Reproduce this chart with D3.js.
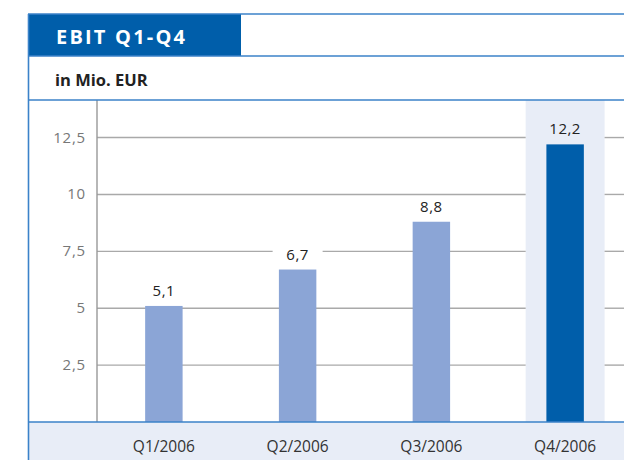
<!DOCTYPE html>
<html>
<head>
<meta charset="utf-8">
<script src="https://cdn.jsdelivr.net/npm/d3@7"></script>
<style>
  html, body { margin: 0; padding: 0; background: #fff; }
  svg { display: block; font-family: "Open Sans", "DejaVu Sans", sans-serif; }
</style>
</head>
<body>
<svg id="chart" width="624" height="460"></svg>
<script>
// ── Data ────────────────────────────────────────────────────────────────
const quarters = ['Q1/2006', 'Q2/2006', 'Q3/2006', 'Q4/2006'];
const ebit = [5.1, 6.7, 8.8, 12.2];
const yTicks = [2.5, 5, 7.5, 10, 12.5];
const highlighted = 'Q4/2006';

const fmt = v => String(v).replace('.', ',');

const svg = d3.select('#chart');
const W = 624, H = 460;
const blue = '#005eaa';
const frame = '#3b82c9';
const paleBlue = '#e8edf7';

// plot area
const plotLeft = 97, plotTop = 100, plotBottom = 422;

const x = d3.scaleBand()
  .domain(quarters)
  .range([plotLeft, 632])
  .paddingInner(0.72)
  .paddingOuter(0.36);

const y = d3.scaleLinear().domain([0, 14.15]).range([plotBottom, plotTop]);

// ── Header ───────────────────────────────────────────────────────────────
svg.append('rect')
  .attr('x', 28).attr('y', 14).attr('width', 213).attr('height', 42)
  .attr('fill', blue);

svg.append('text')
  .attr('x', 56).attr('y', 43.5)
  .attr('fill', '#fff')
  .attr('font-size', 20).attr('font-weight', 'bold')
  .attr('letter-spacing', 2.2)
  .text('EBIT Q1-Q4');

svg.append('text')
  .attr('x', 55).attr('y', 86)
  .attr('fill', '#222')
  .attr('font-size', 16.5).attr('font-weight', 'bold')
  .text('in Mio. EUR');

// ── Bottom band + highlight column ──────────────────────────────────────
svg.append('rect')
  .attr('x', 28).attr('y', plotBottom).attr('width', W - 28).attr('height', H - plotBottom)
  .attr('fill', paleBlue);

const hlW = x.step() * 0.59;
const hlX0 = x(highlighted) + x.bandwidth() / 2 - hlW / 2;
svg.append('rect')
  .attr('x', hlX0)
  .attr('y', plotTop)
  .attr('width', hlW)
  .attr('height', plotBottom - plotTop)
  .attr('fill', paleBlue);

// ── Grid ─────────────────────────────────────────────────────────────────
const grid = svg.append('g');
yTicks.forEach(t => {
  grid.append('line')
    .attr('x1', plotLeft).attr('x2', hlX0)
    .attr('y1', y(t)).attr('y2', y(t))
    .attr('stroke', '#a9a9a9').attr('stroke-width', 1.4);
  grid.append('line')
    .attr('x1', hlX0 + hlW).attr('x2', W)
    .attr('y1', y(t)).attr('y2', y(t))
    .attr('stroke', '#a9a9a9').attr('stroke-width', 1.4);
});

svg.append('g')
  .selectAll('text')
  .data(yTicks)
  .join('text')
  .attr('x', 86)
  .attr('y', d => y(d) + 5)
  .attr('text-anchor', 'end')
  .attr('fill', '#777')
  .attr('font-size', 15)
  .attr('letter-spacing', 0.8)
  .text(fmt);

svg.append('line')
  .attr('x1', plotLeft).attr('x2', plotLeft)
  .attr('y1', plotTop).attr('y2', plotBottom)
  .attr('stroke', '#999').attr('stroke-width', 1.4);

// ── Bars ─────────────────────────────────────────────────────────────────
svg.append('g')
  .selectAll('rect')
  .data(quarters)
  .join('rect')
  .attr('x', d => x(d))
  .attr('y', (d, i) => y(ebit[i]))
  .attr('width', x.bandwidth())
  .attr('height', (d, i) => plotBottom - y(ebit[i]))
  .attr('fill', d => d === highlighted ? blue : '#8ba5d6');

// value labels with a white (or pale) backing that breaks the gridlines
const labels = svg.append('g')
  .selectAll('g')
  .data(quarters)
  .join('g')
  .attr('transform', (d, i) => `translate(${x(d) + x.bandwidth() / 2},${y(ebit[i]) - 10})`);

labels.append('rect')
  .attr('x', -25).attr('y', -15).attr('width', 50).attr('height', 19)
  .attr('fill', d => d === highlighted ? paleBlue : '#fff');

labels.append('text')
  .attr('text-anchor', 'middle')
  .attr('fill', '#222')
  .attr('font-size', 15)
  .attr('letter-spacing', 0.5)
  .text((d, i) => fmt(ebit[i]));

// ── Category axis ───────────────────────────────────────────────────────
svg.append('g')
  .selectAll('text')
  .data(quarters)
  .join('text')
  .attr('x', d => x(d) + x.bandwidth() / 2)
  .attr('y', 452)
  .attr('text-anchor', 'middle')
  .attr('fill', '#333')
  .attr('font-size', 15.5)
  .text(d => d);

// ── Frame lines ─────────────────────────────────────────────────────────
const hLines = [14, 56, 100, plotBottom];
hLines.forEach(yy => {
  svg.append('line')
    .attr('x1', 28).attr('x2', W)
    .attr('y1', yy).attr('y2', yy)
    .attr('stroke', frame).attr('stroke-width', 1.6);
});
svg.append('line')
  .attr('x1', 28.5).attr('x2', 28.5)
  .attr('y1', 14).attr('y2', H)
  .attr('stroke', frame).attr('stroke-width', 1.6);
</script>
</body>
</html>
